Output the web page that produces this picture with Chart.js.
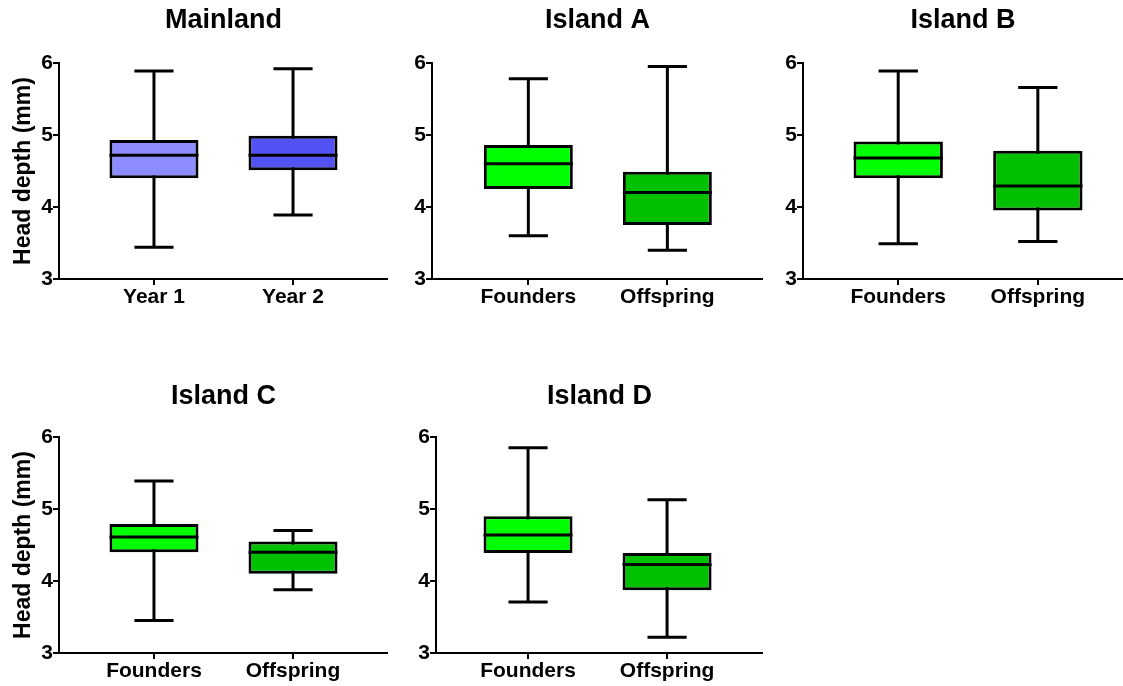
<!DOCTYPE html>
<html lang="en">
<head>
<meta charset="UTF-8">
<title>Head depth</title>
<script src="https://cdn.jsdelivr.net/npm/chart.js"></script>
<style>
    body {
        margin: 0;
        background: #fff;
        overflow: hidden;
        width: 1123px;
        height: 686px;
        position: relative;
    }
    canvas { position: absolute; }
</style>
</head>
<body>
<canvas id="c0" width="388" height="315" style="left:0px;top:0px"></canvas>
<canvas id="c1" width="375" height="315" style="left:388px;top:0px"></canvas>
<canvas id="c2" width="360" height="315" style="left:763px;top:0px"></canvas>
<canvas id="c3" width="388" height="315" style="left:0px;top:374px"></canvas>
<canvas id="c4" width="375" height="315" style="left:388px;top:374px"></canvas>

<script>
// values (mm)
const panelTitles = ['Mainland', 'Island A', 'Island B', 'Island C', 'Island D'];
const groupLabels = [
    ['Year 1', 'Year 2'],
    ['Founders', 'Offspring'],
    ['Founders', 'Offspring'],
    ['Founders', 'Offspring'],
    ['Founders', 'Offspring']
];
const whiskerLow  = [[3.44, 3.89], [3.60, 3.40], [3.49, 3.52], [3.45, 3.88], [3.71, 3.22]];
const quartile1   = [[4.40, 4.51], [4.25, 3.75], [4.40, 3.95], [4.40, 4.10], [4.39, 3.87]];
const medians     = [[4.72, 4.72], [4.60, 4.20], [4.68, 4.29], [4.61, 4.40], [4.64, 4.23]];
const quartile3   = [[4.93, 4.99], [4.86, 4.49], [4.91, 4.78], [4.79, 4.55], [4.90, 4.39]];
const whiskerHigh = [[5.89, 5.92], [5.78, 5.95], [5.89, 5.66], [5.39, 4.70], [5.85, 5.13]];
const yTicks = [3, 4, 5, 6];

// looks / layout
const blueColors = ['#8c8cff', '#5252f5'];
const greenColors = ['#00ff00', '#00c000'];
const panelLayout = [
    { yWidth: 59, xMin: 0.317, xMax: 2.683, yTitle: true, titleTop: 4 },
    { yWidth: 44, xMin: 0.307, xMax: 2.688, yTitle: false, titleTop: 4 },
    { yWidth: 40, xMin: 0.318, xMax: 2.61, yTitle: false, titleTop: 4 },
    { yWidth: 59, xMin: 0.317, xMax: 2.683, yTitle: true, titleTop: 6 },
    { yWidth: 48, xMin: 0.338, xMax: 2.69, yTitle: false, titleTop: 6 }
];

Chart.defaults.font.family = 'Arial, "Liberation Sans", sans-serif';
Chart.defaults.color = '#000';

const boxPlot = {
    id: 'boxPlot',
    beforeDatasetsDraw(chart) {
        const ctx = chart.ctx;
        const y = chart.scales.y;
        const ds = chart.data.datasets[0];
        const meta = chart.getDatasetMeta(0);
        ctx.save();
        ctx.strokeStyle = '#000';
        ctx.lineWidth = 3;
        ctx.lineCap = 'butt';
        meta.data.forEach((bar, i) => {
            const { x, width } = bar.getProps(['x', 'width'], true);
            const lo = y.getPixelForValue(ds.low[i]);
            const hi = y.getPixelForValue(ds.high[i]);
            const cap = width * 0.22;
            ctx.beginPath();
            ctx.moveTo(x, lo);
            ctx.lineTo(x, hi);
            ctx.moveTo(x - cap, lo);
            ctx.lineTo(x + cap, lo);
            ctx.moveTo(x - cap, hi);
            ctx.lineTo(x + cap, hi);
            ctx.stroke();
        });
        ctx.restore();
    },
    afterDatasetsDraw(chart) {
        const ctx = chart.ctx;
        const y = chart.scales.y;
        const ds = chart.data.datasets[0];
        const meta = chart.getDatasetMeta(0);
        ctx.save();
        ctx.strokeStyle = '#000';
        ctx.lineWidth = 3;
        meta.data.forEach((bar, i) => {
            const { x, width } = bar.getProps(['x', 'width'], true);
            const m = y.getPixelForValue(ds.median[i]);
            ctx.beginPath();
            ctx.moveTo(x - width / 2, m);
            ctx.lineTo(x + width / 2, m);
            ctx.stroke();
        });
        ctx.restore();
    }
};

function makePanel(p) {
    const lay = panelLayout[p];
    const colors = p === 0 ? blueColors : greenColors;
    const tickFont = { size: 21, weight: 'bold' };

    new Chart(document.getElementById('c' + p), {
        type: 'bar',
        data: {
            datasets: [{
                data: quartile1[p].map((q, i) => ({ x: i + 1, y: [q, quartile3[p][i]] })),
                low: whiskerLow[p],
                high: whiskerHigh[p],
                median: medians[p],
                backgroundColor: colors,
                borderColor: '#000',
                borderWidth: 3,
                borderSkipped: false,
                barPercentage: 0.64,
                categoryPercentage: 1
            }]
        },
        options: {
            responsive: false,
            animation: false,
            layout: { padding: 0 },
            plugins: {
                legend: { display: false },
                tooltip: { enabled: false },
                title: {
                    display: true,
                    text: panelTitles[p],
                    fullSize: false,
                    color: '#000',
                    font: { size: 27, weight: 'bold' },
                    padding: { top: lay.titleTop, bottom: 30.6 - lay.titleTop }
                }
            },
            scales: {
                x: {
                    type: 'linear',
                    offset: false,
                    min: lay.xMin,
                    max: lay.xMax,
                    afterBuildTicks: s => { s.ticks = groupLabels[p].map((_, i) => ({ value: i + 1 })); },
                    afterFit: s => { s.height = 36; },
                    ticks: {
                        callback: v => groupLabels[p][v - 1],
                        font: tickFont,
                        color: '#000',
                        padding: 0,
                        maxRotation: 0,
                        autoSkip: false
                    },
                    grid: { offset: false, drawOnChartArea: false, drawTicks: true, tickLength: 6, color: '#000', lineWidth: 2 },
                    border: { color: '#000', width: 2 }
                },
                y: {
                    min: 3,
                    max: 6,
                    afterBuildTicks: s => { s.ticks = yTicks.map(v => ({ value: v })); },
                    afterFit: s => { s.width = lay.yWidth; },
                    ticks: { font: tickFont, color: '#000', padding: 0 },
                    title: {
                        display: lay.yTitle,
                        text: 'Head depth (mm)',
                        color: '#000',
                        font: { size: 23, weight: 'bold' },
                        padding: { top: 10, bottom: 0 }
                    },
                    grid: { drawOnChartArea: false, drawTicks: true, tickLength: 6, color: '#000', lineWidth: 2 },
                    border: { color: '#000', width: 2 }
                }
            }
        },
        plugins: [boxPlot]
    });
}

for (let p = 0; p < panelTitles.length; p++) {
    makePanel(p);
}
</script>
</body>
</html>
